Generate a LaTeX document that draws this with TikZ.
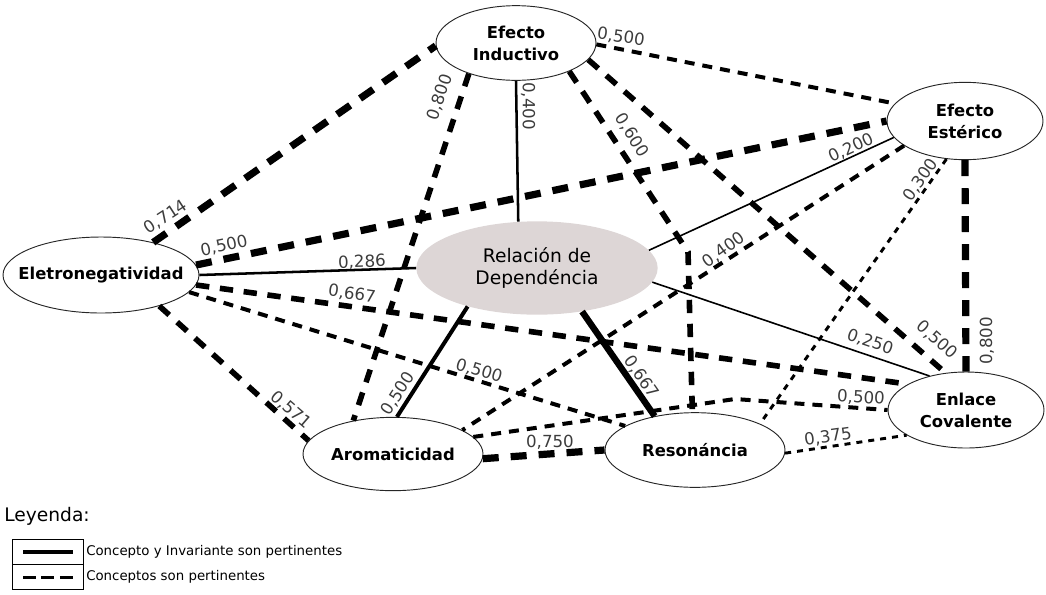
\documentclass[tikz,border=0pt]{standalone}
\usepackage{fontspec}
\setmainfont{DejaVu Sans}
\usetikzlibrary{shapes.geometric}
\definecolor{depfill}{RGB}{221,214,214}
\definecolor{wgray}{RGB}{60,60,60}

\begin{document}
\begin{tikzpicture}[x=0.75pt, y=-0.75pt,
    concept/.style ={ellipse, draw=black!85, line width=0.7pt, inner sep=0pt, align=center,
                     font=\fontsize{12.3}{16.5}\selectfont\bfseries},
    dependence/.style ={ellipse, fill=depfill, inner sep=0pt, align=center,
                     font=\fontsize{14}{17}\selectfont},
    weight/.style ={inner sep=0pt, text=wgray, font=\fontsize{12.5}{14}\selectfont},
    inv thin/.style ={line width=1.2pt},
    inv mid/.style ={line width=1.9pt},
    inv thick/.style ={line width=3pt},
    inv heavy/.style ={line width=4.8pt},
    per thin/.style ={line width=2.2pt, dash pattern=on 4.5pt off 4.5pt},
    per mid/.style ={line width=3pt, dash pattern=on 7.5pt off 6pt},
    per thick/.style ={line width=4.2pt, dash pattern=on 10pt off 8pt},
    per heavy/.style ={line width=5.4pt, dash pattern=on 12pt off 9pt}]
   \useasboundingbox (0,0) rectangle (1046,594);
   \node[concept, minimum width=147pt, minimum height=57pt] (N) at (101,275) {\makebox[0pt]{Eletronegatividad}};
   \node[concept, minimum width=120pt, minimum height=56pt] (I) at (516,43) {Efecto\\Inductivo};
   \node[concept, minimum width=117pt, minimum height=58pt] (E) at (965,121) {Efecto\\Estérico};
   \node[dependence, minimum width=181pt, minimum height=70pt] (R) at (537,268) {Relación de\\Dependéncia};
   \node[concept, minimum width=135pt, minimum height=55pt] (A) at (393,454) {Aromaticidad};
   \node[concept, minimum width=135pt, minimum height=56pt] (S) at (695,450) {Resonáncia};
   \node[concept, minimum width=117pt, minimum height=57pt] (C) at (966,410) {Enlace\\Covalente};
   \coordinate (kIS) at (688,252);
   \coordinate (kAC) at (735,399);
   % concepto y invariante
   \draw[inv mid] (N.0) -- (R.180);
   \draw[inv mid] (I.-90) -- (R.112);
   \draw[inv thin] (R.9) -- (E.193);
   \draw[inv thin] (R.-7) -- (C.137);
   \draw[inv thick] (R.209) -- (A.84);
   \draw[inv heavy] (R.-44) -- (S.140);
   % conceptos
   \draw[per heavy] (N.32) -- (I.182);
   \draw[per heavy] (N.6) -- (E.180);
   \draw[per thick] (N.-6) -- (C.156);
   \draw[per mid] (N.-11) -- (S.161);
   \draw[per thick] (N.-28) -- (A.171);
   \draw[per thick] (I.213) -- (A.140);
   \draw[per mid] (I.-1) -- (E.166);
   \draw[per thick] (I.-28) -- (kIS) -- (S.94);
   \draw[per thick] (I.-13) -- (C.119);
   \draw[per mid] (E.202) -- (A.19);
   \draw[per thin] (E.244) -- (S.22);
   \draw[per heavy] (E.-90) -- (C.90);
   \draw[per mid] (A.12) -- (kAC) -- (C.180);
   \draw[per heavy] (A.-3) -- (S.180);
   \draw[per thin] (S.-2) -- (C.203);
   % pesos
   \node[weight, rotate=2] (wNR) at (362,262) {0,286};
   \node[weight, rotate=-90] (wIR) at (528,106) {0,400};
   \node[weight, rotate=25] (wRE) at (851,148) {0,200};
   \node[weight, rotate=-19] (wRC) at (870,342) {0,250};
   \node[weight, rotate=57] (wRA) at (398,394) {0,500};
   \node[weight, rotate=-55] (wRS) at (641,377) {0,667};
   \node[weight, rotate=33] (wNI) at (166,217) {0,714};
   \node[weight, rotate=12] (wNE) at (224,246) {0,500};
   \node[weight, rotate=-8] (wNC) at (352,294) {0,667};
   \node[weight, rotate=-17] (wNS) at (479,371) {0,500};
   \node[weight, rotate=-41] (wNA) at (291,410) {0,571};
   \node[weight, rotate=72] (wIA) at (440,97) {0,800};
   \node[weight, rotate=-8] (wIE) at (621,37) {0,500};
   \node[weight, rotate=-58] (wIS) at (632,135) {0,600};
   \node[weight, rotate=-42] (wIC) at (937,340) {0,500};
   \node[weight, rotate=36] (wEA) at (724,250) {0,400};
   \node[weight, rotate=55] (wES) at (921,180) {0,300};
   \node[weight, rotate=90] (wEC) at (987,341) {0,800};
   \node[weight, rotate=-3] (wAC) at (861,398) {0,500};
   \node[weight] (wAS) at (550,442) {0,750};
   \node[weight, rotate=8] (wSC) at (828,437) {0,375};
   % leyenda
   \node[anchor=west, inner sep=0pt, font=\fontsize{14}{16}\selectfont] (ley) at (4,516) {Leyenda:};
   \node[draw, line width=0.7pt, minimum width=53.25pt, minimum height=18.75pt, inner sep=0pt] (box1) at (47.5,551.5) {};
   \node[draw, line width=0.7pt, minimum width=53.25pt, minimum height=18.75pt, inner sep=0pt] (box2) at (47.5,577) {};
   \coordinate (s1) at (23,552);
   \coordinate (e1) at (73,552);
   \coordinate (s2) at (23,577);
   \coordinate (e2) at (73,577);
   \draw[line width=2.5pt] (s1) -- (e1);
   \draw[line width=2.25pt, dash pattern=on 9.75pt off 4.1pt] (s2) -- (e2);
   \node[anchor=west, inner sep=0pt, font=\fontsize{10}{12}\selectfont] (t1) at (86,552) {Concepto y Invariante son pertinentes};
   \node[anchor=west, inner sep=0pt, font=\fontsize{10}{12}\selectfont] (t2) at (86,577) {Conceptos son pertinentes};
 \end{tikzpicture}
\end{document}
